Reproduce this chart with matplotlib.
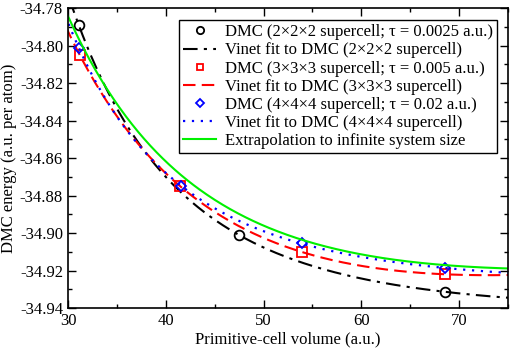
import numpy as np
import matplotlib
matplotlib.use("Agg")
import matplotlib.pyplot as plt
from matplotlib.ticker import MultipleLocator

plt.rcParams['font.family'] = ['Liberation Serif', 'DejaVu Serif']

# DMC data (volume in a.u., energy in a.u. per atom)
v_222 = [31.1, 47.5, 68.6]
e_222 = [-34.789, -34.901, -34.9313]

v_333 = [31.2, 41.5, 53.9, 68.6]
e_333 = [-34.805, -34.875, -34.910, -34.922]

v_444 = [31.1, 41.6, 53.9, 68.6]
e_444 = [-34.801, -34.875, -34.9053, -34.9187]

# extrapolated curve, read at a few volumes
v_inf = [30.0, 33.3, 41.8, 48.6, 53.9, 68.6, 75.0]
e_inf = [-34.7837, -34.8184, -34.869, -34.893, -34.9037, -34.917, -34.9188]


def vinet_shape(v, v0, bp):
    eta = (v / v0) ** (1.0 / 3.0)
    return 2.0 * v0 / (bp - 1) ** 2 * (
        2.0 - (5.0 + 3.0 * bp * (eta - 1) - 3.0 * eta) * np.exp(-1.5 * (bp - 1) * (eta - 1)))


def vinet_fit(v, e):
    # grid over V0 and B0'; E0 and B0 come from linear least squares
    v = np.asarray(v)
    e = np.asarray(e)
    best = None
    for v0 in np.linspace(50, 250, 201):
        for bp in np.linspace(1.5, 9.0, 76):
            a = np.column_stack([np.ones_like(v), vinet_shape(v, v0, bp)])
            coef, *_ = np.linalg.lstsq(a, e, rcond=None)
            res = np.sum((a @ coef - e) ** 2)
            if best is None or res < best[0]:
                best = (res, v0, bp, coef)
    _, v0, bp, coef = best
    return lambda x: coef[0] + coef[1] * vinet_shape(x, v0, bp)


vv = np.linspace(29, 76, 300)

fig, ax = plt.subplots(figsize=(5.11, 3.53), dpi=100)
fig.subplots_adjust(left=0.133, right=0.994, top=0.977, bottom=0.127)

ax.plot(v_222, e_222, 'o', mfc='none', mec='black', mew=1.3, ms=7,
        label=u'DMC (2\u00d72\u00d72 supercell; \u03c4 = 0.0025 a.u.)')
ax.plot(vv, vinet_fit(v_222, e_222)(vv), color='black', ls=(0, (7, 3, 1.5, 3)), lw=1.5,
        label=u'Vinet fit to DMC (2\u00d72\u00d72 supercell)')
ax.plot(v_333, e_333, 's', mfc='none', mec='red', mew=1.3, ms=6.5,
        label=u'DMC (3\u00d73\u00d73 supercell; \u03c4 = 0.005 a.u.)')
ax.plot(vv, vinet_fit(v_333, e_333)(vv), color='red', ls=(0, (6, 3)), lw=1.5,
        label=u'Vinet fit to DMC (3\u00d73\u00d73 supercell)')
ax.plot(v_444, e_444, 'D', mfc='none', mec='blue', mew=1.3, ms=5.5,
        label=u'DMC (4\u00d74\u00d74 supercell; \u03c4 = 0.02 a.u.)')
ax.plot(vv, vinet_fit(v_444, e_444)(vv), color='blue', ls=(0, (1, 3)), lw=1.6,
        label=u'Vinet fit to DMC (4\u00d74\u00d74 supercell)')
ax.plot(vv, vinet_fit(v_inf, e_inf)(vv), color='#00f000', lw=1.5,
        label='Extrapolation to infinite system size')

ax.set_xlim(30, 75)
ax.set_ylim(-34.94, -34.78)
ax.xaxis.set_major_locator(MultipleLocator(10))
ax.xaxis.set_minor_locator(MultipleLocator(5))
ax.yaxis.set_major_locator(MultipleLocator(0.02))
ax.yaxis.set_minor_locator(MultipleLocator(0.01))
ax.yaxis.set_major_formatter(plt.FormatStrFormatter('%.2f'))
ax.tick_params(which='both', direction='in', top=True, right=True, labelsize=12)
ax.tick_params(which='major', length=6, width=1)
ax.tick_params(which='minor', length=3, width=1)
for s in ax.spines.values():
    s.set_linewidth(1.2)

ax.set_xlabel('Primitive-cell volume (a.u.)', fontsize=12, labelpad=2)
ax.set_ylabel('DMC energy (a.u. per atom)', fontsize=12, labelpad=2)

leg = ax.legend(loc='upper right', fontsize=12, frameon=True, fancybox=False,
                edgecolor='black', framealpha=1, handlelength=2.0, markerscale=0.75,
                borderpad=0.25, labelspacing=0.13, handletextpad=0.5,
                borderaxespad=0, bbox_to_anchor=(0.975, 0.96))
leg.get_frame().set_linewidth(1.0)

fig.savefig('out.png', dpi=100)
